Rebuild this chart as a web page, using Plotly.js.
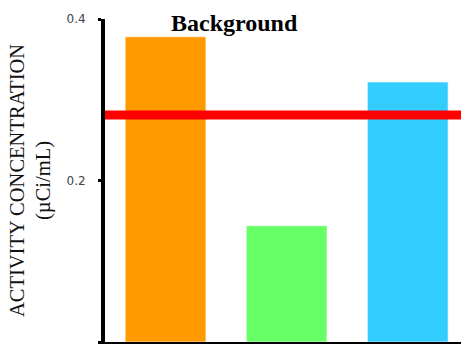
<!DOCTYPE html>
<html>
<head>
<meta charset="utf-8">
<script src="https://cdn.plot.ly/plotly-3.0.1.min.js"></script>
<style>
  html, body { margin: 0; padding: 0; background: #ffffff; }
  #chart { width: 461px; height: 344px; }
</style>
</head>
<body>
<div id="chart"></div>
<script>
// Measured activity per sample (µCi/mL) and the background reference level.
const samples = ['Sample 1', 'Sample 2', 'Sample 3'];
const positions = [0, 1, 2];
const activity = [0.378, 0.144, 0.322];
const barColors = ['#FF9900', '#66FF66', '#33CCFF'];
const backgroundLevel = 0.281;
const yTicks = [0, 0.2, 0.4];
const yTickText = ['0', '0.2', '0.4'];

const bars = {
  type: 'bar',
  x: positions,
  y: activity,
  text: samples,
  hoverinfo: 'text+y',
  textposition: 'none',
  marker: {
    color: barColors,
    line: { color: 'rgba(255,255,255,0.6)', width: 1 }
  },
  showlegend: false
};

// Background level drawn across the full width of the plot.
const levelLine = {
  type: 'scatter',
  mode: 'lines',
  x: [positions[0] - 0.5, positions[positions.length - 1] + 0.5],
  y: [backgroundLevel, backgroundLevel],
  line: { color: '#FF0000', width: 9 },
  hoverinfo: 'y',
  showlegend: false
};

const layout = {
  width: 461,
  height: 344,
  margin: { l: 105, r: 0, t: 19, b: 2, pad: 0 },
  paper_bgcolor: '#ffffff',
  plot_bgcolor: '#ffffff',
  bargap: 0.333,
  title: {
    text: '<b>Background</b>',
    font: { family: 'Liberation Serif, Times New Roman, serif', size: 24, color: '#000000' },
    xref: 'container',
    x: 0.508,
    xanchor: 'center',
    yref: 'container',
    y: 0.958,
    yanchor: 'top'
  },
  xaxis: {
    range: [-0.5, 2.44],
    showticklabels: false,
    ticks: '',
    showgrid: false,
    zeroline: false,
    showline: true,
    linecolor: '#000000',
    linewidth: 4,
    fixedrange: true
  },
  yaxis: {
    range: [0, 0.4],
    tickvals: yTicks,
    ticktext: yTickText,
    ticks: 'outside',
    ticklen: 3,
    tickwidth: 3,
    tickcolor: '#000000',
    ticklabelstandoff: 10,
    tickfont: { family: 'DejaVu Sans, sans-serif', size: 12, color: '#444444' },
    showgrid: false,
    zeroline: false,
    showline: true,
    linecolor: '#000000',
    linewidth: 4,
    automargin: false,
    fixedrange: true,
    title: {
      text: 'ACTIVITY CONCENTRATION<br>(µCi/mL)',
      font: { family: 'Liberation Serif, Times New Roman, serif', size: 20.5, color: '#111111' },
      standoff: 11
    }
  }
};

Plotly.newPlot('chart', [bars, levelLine], layout, { displayModeBar: false, staticPlot: true });
</script>
</body>
</html>
